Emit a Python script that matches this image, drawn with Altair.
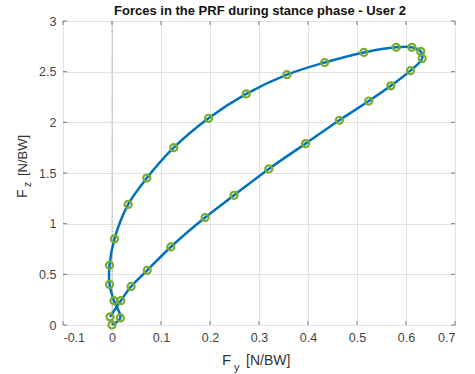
import altair as alt
import pandas as pd

# Force trajectory, in drawing order
fy = [0.000, 0.017, 0.004, -0.005, -0.005, 0.005, 0.033, 0.071, 0.126, 0.197,
      0.274, 0.357, 0.434, 0.514, 0.580, 0.612, 0.630, 0.633, 0.609, 0.569,
      0.524, 0.464, 0.395, 0.320, 0.249, 0.190, 0.120, 0.072, 0.039, 0.018, -0.004]
fz = [0.00, 0.07, 0.24, 0.40, 0.59, 0.85, 1.19, 1.45, 1.75, 2.04,
      2.28, 2.47, 2.59, 2.69, 2.74, 2.74, 2.70, 2.63, 2.51, 2.36,
      2.21, 2.02, 1.79, 1.54, 1.28, 1.06, 0.77, 0.54, 0.38, 0.24, 0.08]
x_ticks = [-0.1, 0.0, 0.1, 0.2, 0.3, 0.4, 0.5, 0.6, 0.7]
y_ticks = [0.0, 0.5, 1.0, 1.5, 2.0, 2.5, 3.0]
title_text = "Forces in the PRF during stance phase - User 2"

W, H = 392, 304
FONT = "Liberation Sans"
df = pd.DataFrame({"fy": fy, "fz": fz, "i": list(range(len(fy)))})
xt = pd.DataFrame({"v": x_ticks})
yt = pd.DataFrame({"v": y_ticks})

xs = alt.Scale(domain=[-0.1, 0.7], nice=False, zero=False)
ys = alt.Scale(domain=[0, 3], nice=False, zero=False)

x_label = "(datum.value < 0 ? '-' : '') + (datum.value == 0 ? '0' : format(abs(datum.value), '.1f'))"
y_label = "format(datum.value, '~g')"

base = alt.Chart(df)

line = base.mark_line(color="#0072BD", strokeWidth=2.5, interpolate="catmull-rom").encode(
    x=alt.X("fy:Q", scale=xs, title=None,
            axis=alt.Axis(values=x_ticks, labelExpr=x_label, labelPadding=6)),
    y=alt.Y("fz:Q", scale=ys, title=None,
            axis=alt.Axis(values=y_ticks, labelExpr=y_label, labelPadding=7)),
    order="i:Q",
)
points = base.mark_point(shape="circle", filled=False, stroke="#77AC30", strokeWidth=2.2,
                         size=50, opacity=1).encode(
    x=alt.X("fy:Q", scale=xs), y=alt.Y("fz:Q", scale=ys))

zero_line = alt.Chart(pd.DataFrame({"v": [0.0]})).mark_rule(
    color="#8a8a8a", strokeWidth=1, strokeDash=[1, 1.5]).encode(
    x=alt.X("v:Q", scale=xs))

xtick_b = alt.Chart(xt).mark_rule(color="#7a7a7a").encode(
    x=alt.X("v:Q", scale=xs), y=alt.value(H), y2=alt.value(H - 4))
xtick_t = alt.Chart(xt).mark_rule(color="#7a7a7a").encode(
    x=alt.X("v:Q", scale=xs), y=alt.value(0), y2=alt.value(4))
ytick_l = alt.Chart(yt).mark_rule(color="#7a7a7a").encode(
    y=alt.Y("v:Q", scale=ys), x=alt.value(0), x2=alt.value(4))
ytick_r = alt.Chart(yt).mark_rule(color="#7a7a7a").encode(
    y=alt.Y("v:Q", scale=ys), x=alt.value(W), x2=alt.value(W - 4))

def txt(s, x, y, size, angle=0, weight="normal", align="left", color="#262626"):
    return alt.Chart(pd.DataFrame({"t": [s]})).mark_text(
        align=align, baseline="alphabetic", fontSize=size, font=FONT, angle=angle,
        fontWeight=weight, color=color).encode(
        text="t:N", x=alt.value(x), y=alt.value(y))

title = txt(title_text, W / 2 + 1, -6, 13, weight="bold", align="center", color="#111111")
xt1 = txt("F", 159, 344, 15, color="#333333")
xt2 = txt("y", 171, 350, 11, color="#333333")
xt3 = txt("[N/BW]", 183, 344, 14, color="#333333")
yt1 = txt("F", -36, 177, 14, angle=270, color="#333333")
yt2 = txt("z", -32, 166, 10, angle=270, color="#333333")
yt3 = txt("[N/BW]", -36, 155, 13, angle=270, color="#333333")

chart = alt.layer(
    zero_line, line, points, xtick_b, xtick_t, ytick_l, ytick_r,
    title, xt1, xt2, xt3, yt1, yt2, yt3,
).properties(
    width=W, height=H,
    autosize=alt.AutoSizeParams(type="none"),
    padding={"left": 63, "top": 21, "right": 20, "bottom": 49},
    background="white",
).configure_axis(
    domain=False, ticks=False, grid=True, gridColor="#e2e2e2", gridWidth=1,
    labelFont=FONT, labelFontSize=12.5, labelColor="#444444",
).configure_view(stroke="#7a7a7a", strokeWidth=1)

chart.save("out.html", embed_options={"renderer": "svg", "actions": False})
